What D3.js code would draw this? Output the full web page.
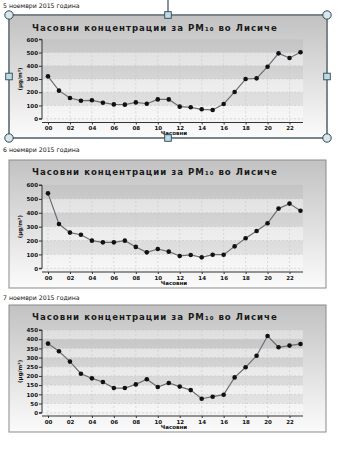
<!DOCTYPE html>
<html><head><meta charset="utf-8">
<script src="https://cdn.jsdelivr.net/npm/d3@7"></script>
<style>body{margin:0;background:#fff}svg{display:block}</style>
</head><body>
<script>
const hours = ["00","01","02","03","04","05","06","07","08","09","10","11","12","13","14","15","16","17","18","19","20","21","22","23"];
const xTickLabels = ["00","02","04","06","08","10","12","14","16","18","20","22"];
const dates = ["5 ноември 2015 година","6 ноември 2015 година","7 ноември 2015 година"];
const values5 = [320,212,156,136,139,121,108,106,123,113,146,146,91,86,71,66,111,202,300,305,393,494,459,502];
const values6 = [540,319,257,242,199,187,187,199,154,115,139,120,89,96,79,98,98,158,216,269,324,430,466,415];
const values7 = [376,334,278,212,187,167,134,134,154,182,140,162,142,123,76,87,98,192,247,310,417,356,365,374];
const yTicks6 = [0,100,200,300,400,500,600];
const yTicks7 = [0,50,100,150,200,250,300,350,400,450];
const title = "Часовни концентрации за PM₁₀ во Лисиче";
const xTitle = "Часовни";
const yTitle = "(µg/m³)";

const svg = d3.select("body").append("svg").attr("width",356).attr("height",460);
const defs = svg.append("defs");
const g = defs.append("linearGradient").attr("id","bg").attr("x1",0).attr("y1",0).attr("x2",0).attr("y2",1);
g.append("stop").attr("offset","0%").attr("stop-color","#c2c2c2");
g.append("stop").attr("offset","100%").attr("stop-color","#fbfbfb");

const charts = [
  {date:dates[0], vals:values5, ticks:yTicks6, bx:10, by:16, bw:316, bh:121, dateY:8, yTop:39.3, y0:118.7, axY:122.5, sel:true},
  {date:dates[1], vals:values6, ticks:yTicks6, bx:9, by:160, bw:317, bh:128, dateY:152, yTop:185, y0:268.3, axY:272, sel:false},
  {date:dates[2], vals:values7, ticks:yTicks7, bx:9, by:305, bw:317, bh:127, dateY:300, yTop:330, y0:412.7, axY:416, sel:false}
];

charts.forEach(c => {
  svg.append("text").attr("x",3).attr("y",c.dateY).attr("font-family","DejaVu Sans").attr("font-size",6.2)
    .attr("fill","#111").text(c.date);
  svg.append("rect").attr("x",c.bx).attr("y",c.by).attr("width",c.bw).attr("height",c.bh)
    .attr("fill","url(#bg)").attr("stroke", c.sel ? "none" : "#8a8a8a").attr("stroke-width",1);

  const ymax = c.ticks[c.ticks.length-1];
  const y = d3.scaleLinear().domain([0,ymax]).range([c.y0,c.yTop]);
  const x = d3.scalePoint().domain(hours).range([48,300.5]);
  const px0 = 42, px1 = 303;

  const step = c.ticks[1]-c.ticks[0];
  c.ticks.slice(0,-1).forEach((t,i) => {
    svg.append("rect").attr("x",px0).attr("width",px1-px0)
      .attr("y",y(t+step)).attr("height",y(t)-y(t+step))
      .attr("fill", i%2===0 ? "rgba(255,255,255,0.35)" : "rgba(0,0,0,0.045)");
  });
  c.ticks.forEach(t => {
    svg.append("line").attr("x1",px0).attr("x2",px1).attr("y1",y(t)).attr("y2",y(t))
      .attr("stroke","#c8c8c8").attr("stroke-width",0.6).attr("stroke-dasharray","2,2");
  });
  xTickLabels.forEach(h => {
    svg.append("line").attr("x1",x(h)).attr("x2",x(h)).attr("y1",c.yTop).attr("y2",c.axY)
      .attr("stroke","#c8c8c8").attr("stroke-width",0.6).attr("stroke-dasharray","2,2");
  });

  const yAxis = d3.axisLeft(y).tickValues(c.ticks).tickSize(3).tickPadding(1);
  const ya = svg.append("g").attr("transform",`translate(${px0},0)`).call(yAxis);
  ya.select(".domain").attr("d",`M-3,${c.yTop}H0V${c.y0}H-3`).attr("stroke","#333");
  const xAxis = d3.axisBottom(x).tickValues(xTickLabels).tickSize(2).tickPadding(2);
  const xa = svg.append("g").attr("transform",`translate(0,${c.axY})`).call(xAxis);
  xa.select(".domain").attr("d",`M${px0},0H${px1}`).attr("stroke","#333");
  [ya,xa].forEach(a => {
    a.selectAll("text").attr("font-family","DejaVu Sans").attr("font-weight","bold").attr("font-size",5.5).attr("fill","#111");
    a.selectAll(".tick line").attr("stroke","#333");
  });

  const line = d3.line().x((d,i)=>x(hours[i])).y(d=>y(d));
  svg.append("path").datum(c.vals).attr("d",line).attr("fill","none").attr("stroke","#6a6f78").attr("stroke-width",1.2);
  svg.selectAll(null).data(c.vals).enter().append("circle")
    .attr("cx",(d,i)=>x(hours[i])).attr("cy",d=>y(d)).attr("r",2.3).attr("fill","#111");

  svg.append("text").attr("x",32).attr("y",c.by+14.5).attr("font-family","DejaVu Sans").attr("font-weight","bold")
    .attr("font-size",8.6).attr("letter-spacing",1).attr("fill","#1a1a1a").text(title);
  svg.append("text").attr("x",174).attr("y",c.axY+12.5).attr("text-anchor","middle").attr("font-family","DejaVu Sans")
    .attr("font-weight","bold").attr("font-size",5.5).attr("fill","#111").text(xTitle);
  svg.append("text").attr("transform",`translate(22,${(c.yTop+c.y0)/2}) rotate(-90)`).attr("text-anchor","middle")
    .attr("font-family","DejaVu Sans").attr("font-weight","bold").attr("font-size",5.5).attr("fill","#111").text(yTitle);

  if (c.sel) {
    const L=9, R=327, T=15, B=138, V=(T+B)/2;
    svg.append("line").attr("x1",168).attr("x2",168).attr("y1",0).attr("y2",T).attr("stroke","#3a4a55").attr("stroke-width",1.2);
    svg.append("rect").attr("x",L).attr("y",T).attr("width",R-L).attr("height",B-T).attr("fill","none")
      .attr("stroke","#34454f").attr("stroke-width",1.3);
    [[L,T],[R,T],[L,B],[R,B]].forEach(p => svg.append("circle").attr("cx",p[0]).attr("cy",p[1]).attr("r",4.2)
      .attr("fill","#d6e8ee").attr("stroke","#34454f").attr("stroke-width",1));
    [[168,T],[168,B],[L,V],[R,V]].forEach(p => svg.append("rect").attr("x",p[0]-3.3).attr("y",p[1]-3.3)
      .attr("width",6.6).attr("height",6.6).attr("fill","#bcdbe8").attr("stroke","#34454f").attr("stroke-width",0.9));
  }
});
</script>
</body></html>
